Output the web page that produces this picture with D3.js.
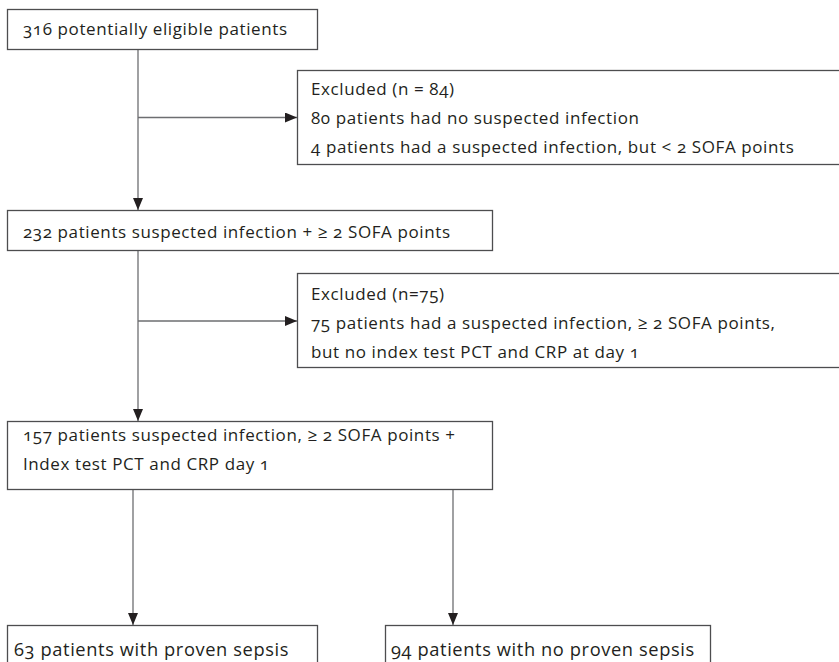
<!DOCTYPE html>
<html>
<head>
<meta charset="utf-8">
<script src="https://cdn.jsdelivr.net/npm/d3@7"></script>
<style>
  body { margin: 0; background: #fff; }
  svg { display: block; }
  text { font-family: "Open Sans", "Noto Sans", sans-serif; letter-spacing: 0.6px; fill: #231f20; font-variant-numeric: oldstyle-nums; }
</style>
</head>
<body>
<svg id="chart" width="839" height="662"></svg>
<script>
// ---- Data: flow chart contents ----
const nodeIds = ["start", "excl1", "step2", "excl2", "step3", "sepsis", "nosepsis"];
const nodeLines = [
  ["316 potentially eligible patients"],
  ["Excluded (n = 84)", "80 patients had no suspected infection", "4 patients had a suspected infection, but < 2 SOFA points"],
  ["232 patients suspected infection + \u2265 2 SOFA points"],
  ["Excluded (n=75)", "75 patients had a suspected infection, \u2265 2 SOFA points,", "but no index test PCT and CRP at day 1"],
  ["157 patients suspected infection, \u2265 2 SOFA points +", "Index test PCT and CRP day 1"],
  ["63 patients with proven sepsis"],
  ["94 patients with no proven sepsis"]
];
const patientCounts = [316, 84, 232, 75, 157, 63, 94];
const edgeFrom = ["start", "start", "step2", "step2", "step3", "step3"];
const edgeTo   = ["step2", "excl1", "step3", "excl2", "sepsis", "nosepsis"];

// ---- Layout (pixel geometry) ----
const layout = {
  start:    {x: 7,   y: 9,   w: 310, h: 40,  lineY: [28.5],            tx: 23, fs: 17},
  excl1:    {x: 297, y: 70,  w: 560, h: 94,  lineY: [88, 117.5, 146.5], tx: 311, fs: 17},
  step2:    {x: 7,   y: 210, w: 485, h: 40,  lineY: [231],           tx: 23, fs: 17},
  excl2:    {x: 297, y: 273, w: 560, h: 94,  lineY: [293, 322, 351],  tx: 311, fs: 17},
  step3:    {x: 7,   y: 421, w: 485, h: 68,  lineY: [434.5, 463],      tx: 23, fs: 17},
  sepsis:   {x: 7,   y: 625, w: 310, h: 60,  lineY: [648],           tx: 14, fs: 18.3},
  nosepsis: {x: 385, y: 625, w: 325, h: 60,  lineY: [648],           tx: 391, fs: 18.3}
};
// edge geometry: vertical trunk x, horizontal branch y
const trunkX = {start: 138, step2: 138};
const branchY = {excl1: 117.5, excl2: 321};
const splitX = {sepsis: 133, nosepsis: 453};

const svg = d3.select("#chart");

const defs = svg.append("defs");
defs.append("marker")
  .attr("id", "arrow")
  .attr("viewBox", "0 0 12 10")
  .attr("refX", 12).attr("refY", 5)
  .attr("markerWidth", 12).attr("markerHeight", 10)
  .attr("markerUnits", "userSpaceOnUse")
  .attr("orient", "auto")
  .append("path")
  .attr("d", "M0,0 L12,5 L0,10 Z")
  .attr("fill", "#231f20");

const nodes = nodeIds.map((id, i) => ({id, lines: nodeLines[i], n: patientCounts[i], ...layout[id]}));
const byId = Object.fromEntries(nodes.map(d => [d.id, d]));

// edges
const edges = edgeFrom.map((f, i) => ({from: byId[f], to: byId[edgeTo[i]]}));
const line = d3.line();
svg.append("g").selectAll("path")
  .data(edges)
  .join("path")
  .attr("d", e => {
    const f = e.from, t = e.to;
    if (t.id in branchY) {
      const x = trunkX[f.id];
      return line([[x, branchY[t.id]], [t.x, branchY[t.id]]]);
    }
    if (t.id in splitX) {
      const x = splitX[t.id];
      return line([[x, f.y + f.h], [x, t.y]]);
    }
    const x = trunkX[f.id];
    return line([[x, f.y + f.h], [x, t.y]]);
  })
  .attr("fill", "none")
  .attr("stroke", "#6d6e71")
  .attr("stroke-width", 1.3)
  .attr("marker-end", "url(#arrow)");

// boxes
const g = svg.append("g").selectAll("g")
  .data(nodes)
  .join("g");

g.append("rect")
  .attr("x", d => d.x + 0.5).attr("y", d => d.y + 0.5)
  .attr("width", d => d.w).attr("height", d => d.h)
  .attr("fill", "#fff")
  .attr("stroke", "#4d4d4f")
  .attr("stroke-width", 1.3);

g.selectAll("text")
  .data(d => d.lines.map((t, i) => ({t, x: d.tx, y: d.lineY[i], fs: d.fs})))
  .join("text")
  .attr("x", d => d.x)
  .attr("y", d => d.y)
  .attr("font-size", d => d.fs + "px")
  .attr("dominant-baseline", "central")
  .text(d => d.t);
</script>
</body>
</html>
